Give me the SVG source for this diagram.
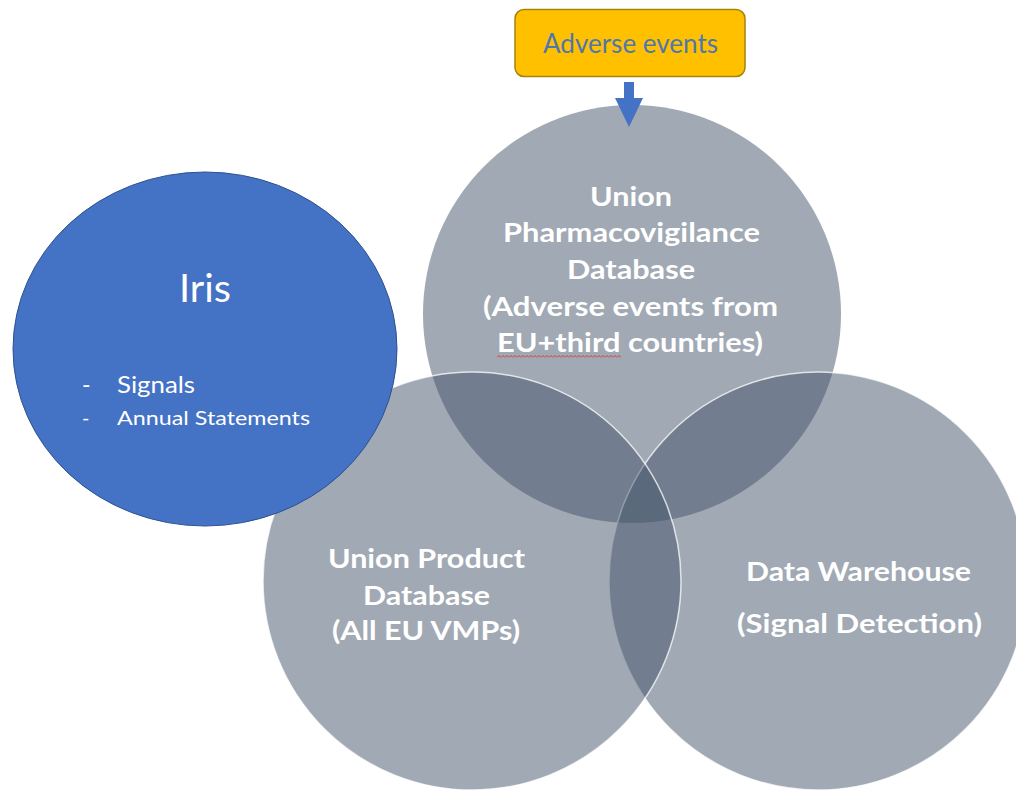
<svg xmlns="http://www.w3.org/2000/svg" width="1016" height="791" viewBox="0 0 1016 791">
  <defs>
    <style>
      .venn { fill: #44546A; fill-opacity: 0.5; }
      .edge { stroke: #FFFFFF; stroke-opacity: 0.75; stroke-width: 1.5; }
      .lbl { font-family: Lato, "Open Sans", "Liberation Sans", sans-serif; font-weight: 700; font-size: 26px; fill: #FFFFFF; }
      .iris { font-family: Lato, "Open Sans", "Liberation Sans", sans-serif; fill: #FFFFFF; }
      .ae { font-family: Lato, "Open Sans", "Liberation Sans", sans-serif; font-size: 26px; fill: #4F77B0; }
    </style>
    <pattern id="wavy" x="497" y="354" width="4" height="5" patternUnits="userSpaceOnUse">
      <path d="M0,3.5 L2,1.5 L4,3.5" fill="none" stroke="#E0302A" stroke-width="0.9"/>
    </pattern>
  </defs>
  <rect width="1016" height="791" fill="#FFFFFF"/>

  <g id="pv-database">
    <circle class="venn" cx="632" cy="314" r="209"/>
    <text class="lbl" x="590" y="206" textLength="82" lengthAdjust="spacingAndGlyphs">Union</text>
    <text class="lbl" x="503" y="242" textLength="257" lengthAdjust="spacingAndGlyphs">Pharmacovigilance</text>
    <text class="lbl" x="567" y="279" textLength="128" lengthAdjust="spacingAndGlyphs">Database</text>
    <text class="lbl" x="483" y="316" textLength="295" lengthAdjust="spacingAndGlyphs">(Adverse events from</text>
    <text class="lbl" x="497" y="352" textLength="266" lengthAdjust="spacingAndGlyphs">EU+third countries)</text>
    <rect x="497" y="354" width="124" height="5" fill="url(#wavy)"/>
  </g>

  <g id="data-warehouse">
    <circle class="venn edge" cx="818" cy="581" r="209"/>
    <text class="lbl" x="746" y="581" textLength="225" lengthAdjust="spacingAndGlyphs">Data Warehouse</text>
    <text class="lbl" x="737" y="633" textLength="245" lengthAdjust="spacingAndGlyphs">(Signal Detection)</text>
  </g>

  <g id="product-database">
    <circle class="venn edge" cx="472" cy="581" r="209"/>
    <text class="lbl" x="328" y="568" textLength="197" lengthAdjust="spacingAndGlyphs">Union Product</text>
    <text class="lbl" x="363" y="605" textLength="127" lengthAdjust="spacingAndGlyphs">Database</text>
    <text class="lbl" x="332" y="640" textLength="188" lengthAdjust="spacingAndGlyphs">(All EU VMPs)</text>
  </g>

  <g id="iris">
    <ellipse cx="205" cy="349" rx="192" ry="177" fill="#4472C4" stroke="#2F528F" stroke-width="1"/>
    <text class="iris" x="179" y="302" font-size="38" textLength="52" lengthAdjust="spacingAndGlyphs">Iris</text>
    <text class="iris" x="82" y="393" font-size="23">-</text>
    <text class="iris" x="117" y="393" font-size="23" textLength="78" lengthAdjust="spacingAndGlyphs">Signals</text>
    <text class="iris" x="82" y="425" font-size="20">-</text>
    <text class="iris" x="117" y="425" font-size="20" textLength="193" lengthAdjust="spacingAndGlyphs">Annual Statements</text>
  </g>

  <g id="adverse-events">
    <rect x="515" y="9.5" width="230" height="67" rx="9" fill="#FFC000" stroke="#A8820A" stroke-width="1.5"/>
    <text class="ae" x="543" y="53" textLength="175" lengthAdjust="spacingAndGlyphs">Adverse events</text>
  </g>

  <g id="connectors">
    <polygon points="624,82 634,82 634,98 643,98 629,127 615,98 624,98" fill="#4472C4"/>
  </g>
</svg>
